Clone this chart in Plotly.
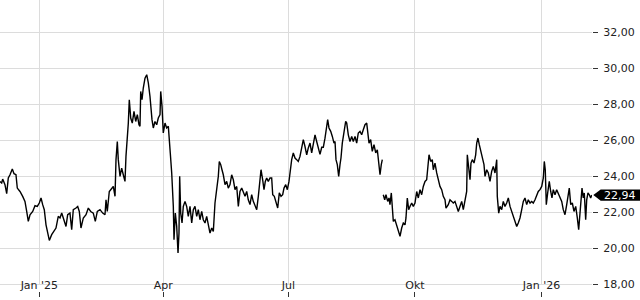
import plotly.graph_objects as go

dates = [
"2024-12-03 09:00","2024-12-04 15:00","2024-12-05 08:00","2024-12-07 00:00","2024-12-08 06:00","2024-12-09 10:00","2024-12-10 16:00","2024-12-12 08:00","2024-12-13 14:00","2024-12-15 00:00",
"2024-12-15 23:00","2024-12-17 22:00","2024-12-19 21:00","2024-12-21 13:00","2024-12-22 19:00","2024-12-23 23:00","2024-12-25 05:00","2024-12-27 04:00","2024-12-28 20:00","2024-12-30 12:00",
"2024-12-31 23:00","2025-01-02 05:00","2025-01-03 10:00","2025-01-04 14:00","2025-01-05 20:00","2025-01-07 01:00","2025-01-08 06:00","2025-01-09 23:00","2025-01-11 15:00","2025-01-13 02:00",
"2025-01-14 18:00","2025-01-16 00:00","2025-01-17 06:00","2025-01-18 22:00","2025-01-20 09:00","2025-01-21 14:00","2025-01-23 06:00","2025-01-24 12:00","2025-01-25 16:00","2025-01-27 15:00",
"2025-01-28 21:00","2025-01-30 01:00","2025-01-31 06:00","2025-02-01 23:00","2025-02-03 22:00","2025-02-05 14:00","2025-02-07 08:00","2025-02-09 05:00","2025-02-10 16:00","2025-02-12 03:00",
"2025-02-14 02:00","2025-02-16 01:00","2025-02-17 17:00","2025-02-18 11:00","2025-02-19 09:00","2025-02-20 20:00","2025-02-22 14:00","2025-02-23 18:00","2025-02-25 00:00","2025-02-25 17:00",
"2025-02-26 16:00","2025-02-27 09:00","2025-02-28 15:00","2025-03-01 20:00","2025-03-03 00:00","2025-03-04 06:00","2025-03-04 23:00","2025-03-05 22:00","2025-03-06 16:00","2025-03-07 09:00",
"2025-03-08 10:00","2025-03-09 13:00","2025-03-10 19:00","2025-03-12 01:00","2025-03-13 05:00","2025-03-14 10:00","2025-03-15 04:00","2025-03-15 16:00","2025-03-16 15:00","2025-03-17 13:00",
"2025-03-18 19:00","2025-03-20 01:00","2025-03-21 05:00","2025-03-22 10:00","2025-03-22 22:00","2025-03-23 21:00","2025-03-24 20:00","2025-03-26 01:00","2025-03-27 07:00","2025-03-28 11:00",
"2025-03-29 17:00","2025-03-30 05:00","2025-03-31 04:00","2025-04-01 02:00","2025-04-02 08:00","2025-04-03 13:00","2025-04-04 18:00","2025-04-05 11:00","2025-04-06 04:00","2025-04-07 05:00",
"2025-04-07 22:00","2025-04-08 09:00","2025-04-08 21:00","2025-04-09 20:00","2025-04-10 20:00","2025-04-11 19:00","2025-04-12 12:00","2025-04-13 00:00","2025-04-13 18:00","2025-04-14 17:00",
"2025-04-15 15:00","2025-04-16 21:00","2025-04-18 02:00","2025-04-19 06:00","2025-04-20 12:00","2025-04-21 18:00","2025-04-22 22:00","2025-04-24 03:00","2025-04-25 09:00","2025-04-26 13:00",
"2025-04-27 18:00","2025-04-29 00:00","2025-04-30 04:00","2025-05-01 10:00","2025-05-02 15:00","2025-05-03 19:00","2025-05-05 01:00","2025-05-06 07:00","2025-05-07 11:00","2025-05-08 16:00",
"2025-05-09 22:00","2025-05-11 02:00","2025-05-11 19:00","2025-05-12 20:00","2025-05-13 18:00","2025-05-14 17:00","2025-05-15 23:00","2025-05-17 04:00","2025-05-18 08:00","2025-05-19 14:00",
"2025-05-20 19:00","2025-05-22 00:00","2025-05-23 05:00","2025-05-24 11:00","2025-05-25 15:00","2025-05-26 20:00","2025-05-28 02:00","2025-05-29 06:00","2025-05-30 12:00","2025-05-31 17:00",
"2025-06-01 21:00","2025-06-03 03:00","2025-06-04 08:00","2025-06-05 12:00","2025-06-06 18:00","2025-06-08 00:00","2025-06-09 04:00","2025-06-10 09:00","2025-06-11 03:00","2025-06-12 08:00",
"2025-06-13 07:00","2025-06-14 06:00","2025-06-15 06:00","2025-06-16 10:00","2025-06-17 16:00","2025-06-18 21:00","2025-06-19 15:00","2025-06-20 19:00","2025-06-22 00:00","2025-06-23 06:00",
"2025-06-24 10:00","2025-06-25 16:00","2025-06-26 21:00","2025-06-27 20:00","2025-06-29 02:00","2025-06-30 06:00","2025-07-01 11:00","2025-07-02 05:00","2025-07-03 10:00","2025-07-04 14:00",
"2025-07-05 20:00","2025-07-07 01:00","2025-07-08 05:00","2025-07-09 11:00","2025-07-10 17:00","2025-07-11 21:00","2025-07-13 02:00","2025-07-14 08:00","2025-07-15 12:00","2025-07-16 18:00",
"2025-07-17 23:00","2025-07-19 03:00","2025-07-20 09:00","2025-07-21 14:00","2025-07-22 18:00","2025-07-24 00:00","2025-07-25 06:00","2025-07-26 10:00","2025-07-27 15:00","2025-07-28 21:00",
"2025-07-29 14:00","2025-07-30 13:00","2025-07-31 19:00","2025-08-01 23:00","2025-08-03 04:00","2025-08-03 22:00","2025-08-04 15:00","2025-08-05 14:00","2025-08-06 14:00","2025-08-07 13:00",
"2025-08-08 06:00","2025-08-09 05:00","2025-08-10 11:00","2025-08-11 16:00","2025-08-12 10:00","2025-08-13 14:00","2025-08-14 19:00","2025-08-16 01:00","2025-08-17 05:00","2025-08-18 11:00",
"2025-08-19 16:00","2025-08-20 20:00","2025-08-22 02:00","2025-08-23 07:00","2025-08-24 11:00","2025-08-25 17:00","2025-08-26 23:00","2025-08-27 16:00","2025-08-28 15:00","2025-08-29 20:00",
"2025-08-31 00:00","2025-09-01 06:00","2025-09-02 12:00","2025-09-03 16:00","2025-09-04 16:00","2025-09-05 15:00","2025-09-06 13:00","2025-09-07 07:00","2025-09-07 16:00","2025-09-08 00:00",
"2025-09-09 01:00","2025-09-09 23:00","2025-09-11 05:00","2025-09-12 04:00","2025-09-12 21:00","2025-09-13 20:00","2025-09-14 13:00","2025-09-15 07:00","2025-09-16 12:00","2025-09-17 18:00",
"2025-09-18 22:00","2025-09-20 04:00","2025-09-21 09:00","2025-09-22 13:00","2025-09-23 19:00","2025-09-24 12:00","2025-09-25 11:00","2025-09-26 11:00","2025-09-27 10:00","2025-09-28 16:00",
"2025-09-29 20:00","2025-10-01 01:00","2025-10-02 07:00","2025-10-03 11:00","2025-10-04 17:00","2025-10-05 22:00","2025-10-07 02:00","2025-10-08 08:00","2025-10-09 13:00","2025-10-10 07:00",
"2025-10-11 06:00","2025-10-12 11:00","2025-10-13 15:00","2025-10-14 09:00","2025-10-15 14:00","2025-10-16 20:00","2025-10-18 00:00","2025-10-19 05:00","2025-10-20 11:00","2025-10-21 15:00",
"2025-10-22 21:00","2025-10-23 14:00","2025-10-25 06:00","2025-10-26 12:00","2025-10-27 18:00","2025-10-28 21:00","2025-10-30 03:00","2025-10-31 09:00","2025-11-01 13:00","2025-11-02 18:00",
"2025-11-04 00:00","2025-11-05 04:00","2025-11-06 10:00","2025-11-07 15:00","2025-11-08 02:00","2025-11-09 02:00","2025-11-10 01:00","2025-11-10 18:00","2025-11-11 17:00","2025-11-12 23:00",
"2025-11-14 04:00","2025-11-14 22:00","2025-11-15 20:00","2025-11-16 19:00","2025-11-17 19:00","2025-11-18 23:00","2025-11-20 05:00","2025-11-20 23:00","2025-11-22 04:00","2025-11-23 08:00",
"2025-11-24 14:00","2025-11-25 19:00","2025-11-26 23:00","2025-11-28 05:00","2025-11-29 11:00","2025-11-29 21:00","2025-11-30 22:00","2025-12-01 20:00","2025-12-03 02:00","2025-12-04 06:00",
"2025-12-05 11:00","2025-12-06 17:00","2025-12-07 21:00","2025-12-09 03:00","2025-12-10 08:00","2025-12-11 12:00","2025-12-12 18:00","2025-12-14 00:00","2025-12-15 03:00","2025-12-16 09:00",
"2025-12-17 15:00","2025-12-18 19:00","2025-12-20 00:00","2025-12-21 06:00","2025-12-22 10:00","2025-12-23 16:00","2025-12-24 21:00","2025-12-26 01:00","2025-12-27 07:00","2025-12-28 12:00",
"2025-12-29 16:00","2025-12-30 22:00","2026-01-01 04:00","2026-01-02 08:00","2026-01-03 01:00","2026-01-03 18:00","2026-01-04 12:00","2026-01-05 12:00","2026-01-06 16:00","2026-01-07 17:00",
"2026-01-08 15:00","2026-01-09 14:00","2026-01-10 20:00","2026-01-12 01:00","2026-01-13 05:00","2026-01-14 11:00","2026-01-15 17:00","2026-01-16 20:00","2026-01-18 02:00","2026-01-19 08:00",
"2026-01-20 12:00","2026-01-21 05:00","2026-01-22 06:00","2026-01-23 10:00","2026-01-24 15:00","2026-01-25 21:00","2026-01-27 01:00","2026-01-28 01:00","2026-01-29 00:00","2026-01-29 17:00",
"2026-01-30 11:00","2026-01-31 09:00","2026-02-01 03:00","2026-02-02 03:00","2026-02-02 21:00","2026-02-03 19:00","2026-02-04 18:00","2026-02-05 18:00","2026-02-06 12:00",
]

prices = [
23.70, 23.61, 23.83, 23.52, 23.02, 23.89, 24.07, 24.39, 24.13, 24.07,
23.33, 23.14, 22.87, 22.59, 22.03, 21.48, 21.85, 22.03, 22.35, 22.31,
22.50, 22.78, 22.41, 22.13, 21.29, 20.83, 20.42, 20.74, 20.92, 21.11,
21.76, 21.67, 21.94, 21.57, 21.20, 21.85, 21.94, 21.02, 22.13, 22.22,
22.31, 22.03, 21.11, 21.67, 21.85, 22.22, 22.03, 21.94, 21.48, 22.03,
22.13, 21.94, 21.85, 22.68, 22.03, 23.14, 23.33, 23.42, 22.87, 24.91,
25.92, 24.91, 23.98, 24.44, 24.07, 23.70, 25.09, 26.02, 26.94, 28.24,
27.22, 26.94, 27.59, 27.03, 27.41, 26.85, 26.76, 28.70, 28.24, 28.89,
29.44, 29.63, 29.17, 28.42, 27.78, 27.13, 26.67, 27.03, 26.85, 27.22,
27.41, 28.70, 27.87, 26.39, 26.94, 26.67, 26.76, 26.20, 25.28, 24.17,
23.06, 22.31, 20.46, 21.94, 21.20, 19.72, 20.83, 23.98, 21.94, 21.39,
22.31, 22.59, 22.31, 21.76, 22.31, 21.39, 22.13, 22.31, 21.76, 22.13,
21.57, 22.03, 21.57, 21.39, 21.76, 21.20, 20.83, 21.11, 20.92, 22.50,
23.30, 23.98, 24.81, 24.63, 24.35, 24.07, 23.52, 23.70, 23.33, 23.52,
24.07, 23.79, 23.24, 23.42, 22.31, 23.14, 23.33, 23.06, 22.87, 23.14,
22.68, 22.41, 22.96, 22.59, 22.31, 22.13, 22.87, 23.61, 24.35, 23.79,
23.24, 23.70, 23.89, 23.70, 23.89, 23.89, 22.96, 22.87, 22.59, 22.22,
23.06, 22.87, 22.96, 23.33, 23.52, 23.24, 23.70, 24.26, 24.91, 25.28,
25.00, 24.91, 24.81, 25.09, 25.64, 26.02, 25.64, 25.18, 25.56, 25.83,
25.28, 25.74, 26.29, 25.92, 25.56, 25.20, 25.60, 25.60, 26.10, 26.75,
27.13, 26.67, 26.48, 26.20, 25.83, 25.92, 24.91, 24.63, 23.98, 24.63,
25.00, 25.83, 26.48, 27.03, 26.94, 26.29, 25.92, 26.20, 25.92, 26.20,
25.83, 26.39, 26.48, 26.29, 26.57, 26.85, 26.94, 26.29, 25.83, 26.02,
25.37, 25.74, 25.28, 25.46, 24.63, 24.07, 24.63, 24.91, None, 22.96,
22.68, 22.96, 22.59, 22.78, 22.41, 23.06, 22.31, 21.48, 21.57, 21.29,
21.02, 20.65, 21.11, 21.39, 21.29, 21.67, 22.78, 22.13, 22.31, 22.50,
22.31, 22.50, 23.14, 22.78, 23.24, 22.96, 23.42, 23.70, 23.79, 24.53,
25.18, 24.81, 24.91, 24.35, 24.72, 24.17, 23.70, 23.42, 23.24, 22.87,
22.68, 22.22, 22.41, 22.68, 22.59, 22.50, 22.59, 22.31, 22.03, 22.31,
22.59, 22.13, 22.68, 23.14, 25.18, 24.35, 23.79, 24.72, 24.91, 24.72,
25.18, 25.83, 26.11, 25.74, 25.37, 25.09, 24.63, 23.98, 24.35, 24.17,
23.70, 24.26, 24.53, 24.17, 24.91, 22.87, 21.94, 22.31, 22.13, 22.59,
22.31, 22.50, 22.78, 22.31, 22.03, 21.67, 21.39, 21.20, 21.39, 21.67,
22.13, 22.59, 22.78, 22.41, 22.68, 22.50, 22.59, 22.50, 22.68, 22.87,
23.14, 23.24, 23.42, 23.89, 24.81, 24.35, 22.41, 23.06, 23.70, 23.14,
22.78, 23.24, 22.96, 23.24, 23.06, 22.78, 22.59, 22.13, 21.85, 22.41,
23.06, 23.33, 22.41, 22.50, 22.03, 22.31, 21.67, 21.02, 21.94, 22.59,
23.33, 22.78, 23.06, 21.57, 22.68, 23.06, 22.96, 22.78, 22.94,
]

assert len(dates) == len(prices), (len(dates), len(prices))

tick_dates = ["2025-01-01", "2025-04-01", "2025-07-01", "2025-10-01", "2026-01-01"]
tick_labels = ["Jan '25", "Apr", "Jul", "Okt", "Jan '26"]
y_ticks = [18, 20, 22, 24, 26, 28, 30, 32]
last_value = prices[-1]
last_label = f"{last_value:.2f}".replace(".", ",")

Y_MIN, Y_MAX = 18, 33.78
X_RANGE = ["2024-12-03 09:22", "2026-02-06 17:17"]
GRID = "#dcdcdc"
FONT = "DejaVu Sans"
TXT = "#222222"
Y_DOMAIN_LOW = 13 / 297  # space below plot for x labels / ticks

fig = go.Figure()
fig.add_trace(go.Scatter(
    x=dates, y=prices, mode="lines",
    line=dict(color="#000000", width=1.4),
    connectgaps=False, hoverinfo="skip", showlegend=False,
))
# invisible helper trace so the tick-only overlay axis is drawn
fig.add_trace(go.Scatter(
    x=[dates[0]], y=[None], xaxis="x2", yaxis="y", mode="lines",
    hoverinfo="skip", showlegend=False,
))

fig.update_layout(
    template="none",
    width=640, height=300, autosize=False,
    margin=dict(l=0, r=48, t=0, b=3, pad=0),
    paper_bgcolor="white", plot_bgcolor="white",
    separators=",.",
    font=dict(family=FONT, size=11, color=TXT),
    showlegend=False,
    xaxis=dict(
        type="date", range=X_RANGE, automargin=False,
        tickmode="array", tickvals=tick_dates, ticktext=tick_labels,
        showgrid=True, gridcolor=GRID, gridwidth=1,
        showline=True, linecolor=GRID, linewidth=1,
        ticks="", ticklabelstandoff=-9,
        tickfont=dict(family=FONT, size=11, color=TXT),
        zeroline=False, fixedrange=True,
    ),
    xaxis2=dict(
        type="date", range=X_RANGE, overlaying="x", automargin=False,
        anchor="free", position=0, side="bottom",
        tickmode="array", tickvals=tick_dates,
        showticklabels=False, showgrid=False, showline=False, zeroline=False,
        ticks="inside", ticklen=5, tickwidth=1, tickcolor="#333333",
        fixedrange=True,
    ),
    yaxis=dict(
        side="right", range=[Y_MIN, Y_MAX], domain=[Y_DOMAIN_LOW, 1],
        automargin=False,
        tickmode="array", tickvals=y_ticks, tickformat=".2f",
        showgrid=True, gridcolor=GRID, gridwidth=1,
        ticks="outside", ticklen=5, tickwidth=1, tickcolor="#333333",
        ticklabelstandoff=3,
        tickfont=dict(family=FONT, size=11, color=TXT),
        zeroline=False, showline=False, fixedrange=True,
    ),
)

# last-price tag (pentagon pointing left) in paper coordinates
yc = Y_DOMAIN_LOW + (1 - Y_DOMAIN_LOW) * (last_value - Y_MIN) / (Y_MAX - Y_MIN)
hh = 0.0192
fig.add_shape(
    type="path", xref="paper", yref="paper",
    path=(f"M 1.0022,{yc} L 1.0147,{yc + hh} L 1.1,{yc + hh} "
          f"L 1.1,{yc - hh} L 1.0147,{yc - hh} Z"),
    fillcolor="#000000", line=dict(width=0), layer="above",
)
fig.add_annotation(
    xref="paper", yref="y", x=1, y=last_value,
    xanchor="left", yanchor="middle", xshift=10,
    text=last_label, showarrow=False,
    font=dict(family=FONT, size=11, color="white"),
)

fig.write_html("out.html")
